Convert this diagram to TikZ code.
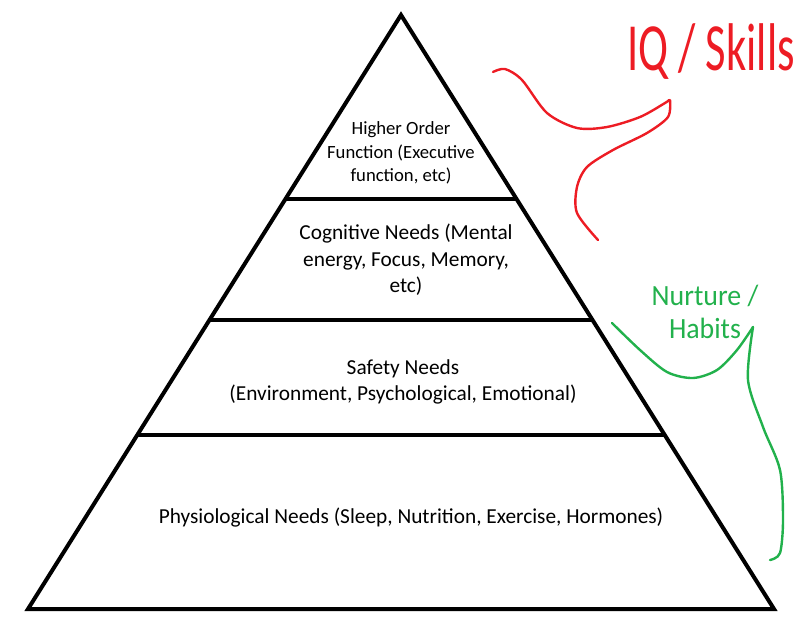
\documentclass[tikz,border=0pt]{standalone}
\usepackage{fontspec}
\setmainfont{Carlito}
\usepackage{tikz}
\usetikzlibrary{calc}
\usepackage{xcolor}
\definecolor{paintred}{RGB}{237,28,36}
\definecolor{paintgreen}{RGB}{34,177,76}
\tikzset{
  tier/.style={line width=3pt},
  levelText/.style={align=center, font=\fontsize{16}{20}\selectfont},
  scrawl/.style={inner sep=0pt, align=center, font=\fontsize{44}{44}\selectfont},
  scribble/.style={line width=1.8pt, line cap=round, line join=round}
}

\begin{document}
\begin{tikzpicture}[x=0.75pt, y=-0.75pt]
  \useasboundingbox (0,0) rectangle (800,632);
  \coordinate (apex) at (401,15);
  \coordinate (bl) at (28,609);
  \coordinate (br) at (774,609);
  \draw[tier, line join=miter] (apex) -- (br) -- (bl) -- cycle;
  \foreach \t in {0.31, 0.5135, 0.707}
    \draw[tier] ($(apex)!\t!(bl)$) -- ($(apex)!\t!(br)$);
  \node[levelText, font=\fontsize{14}{17.5}\selectfont] (higher) at (401,153) {Higher Order\\Function (Executive\\function, etc)};
  \node[levelText] (cognitive) at (406,260) {Cognitive Needs (Mental\\energy, Focus, Memory,\\etc)};
  \node[levelText] (safety) at (403,382) {Safety Needs\\(Environment, Psychological, Emotional)};
  \node[levelText] (physio) at (411,518) {Physiological Needs (Sleep, Nutrition, Exercise, Hormones)};
  \node[scrawl, paintred] (iq) at (711,52) {\scalebox{0.76}[1.15]{IQ / Skills}};
  \draw[scribble, paintred] plot[smooth] coordinates {(493,72) (505,69) (522,80) (547,113) (577,128) (607,127) (640,117) (665,103) (669,100)};
  \draw[scribble, paintred] plot[smooth] coordinates {(670,100) (668,117) (647,133) (613,150) (587,167) (577,187) (577,213) (598,240)};
  \node[scrawl, paintgreen, font=\fontsize{22}{25}\selectfont] (nurture) at (705,312) {\scalebox{0.95}[1]{Nurture /}\\\scalebox{0.95}[1]{Habits}};
  \draw[scribble, paintgreen] plot[smooth] coordinates {(612,323) (640,350) (667,372) (693,378) (717,370) (737,350) (753,327)};
  \draw[scribble, paintgreen] plot[smooth] coordinates {(753,327) (748,380) (763,427) (780,470) (783,520) (780,553) (770,560)};
\end{tikzpicture}
\end{document}
